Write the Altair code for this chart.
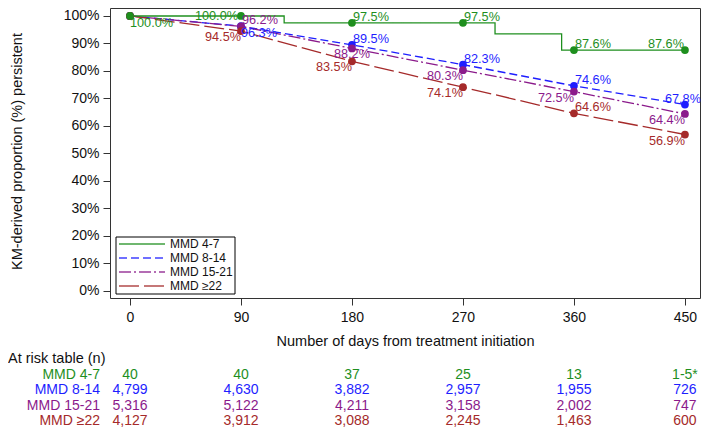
import altair as alt
import pandas as pd

FONT = "Liberation Sans"

# ---------------- data ----------------
series = ["MMD 4-7", "MMD 8-14", "MMD 15-21", "MMD ≥22"]
colors = ["#1E8F1E", "#1E1EFF", "#8B1A8B", "#A52A2A"]
dashes = [[1, 0], [8, 4], [12, 3, 2, 3], [20, 5]]
days = [0, 90, 180, 270, 360, 450]

pct_4_7 = [100.0, 100.0, 97.5, 97.5, 87.6, 87.6]
pct_8_14 = [100.0, 96.3, 89.5, 82.3, 74.6, 67.8]
pct_15_21 = [100.0, 96.2, 88.2, 80.3, 72.5, 64.4]
pct_22 = [100.0, 94.5, 83.5, 74.1, 64.6, 56.9]

# KM step curve of MMD 4-7 (day of each drop, level after the drop)
step_days_4_7 = [0, 125, 296, 350, 450]
step_pct_4_7 = [100.0, 97.5, 93.5, 87.6, 87.6]

at_risk_4_7 = ["40", "40", "37", "25", "13", "1-5*"]
at_risk_8_14 = ["4,799", "4,630", "3,882", "2,957", "1,955", "726"]
at_risk_15_21 = ["5,316", "5,122", "4,211", "3,158", "2,002", "747"]
at_risk_22 = ["4,127", "3,912", "3,088", "2,245", "1,463", "600"]

pcts = [pct_4_7, pct_8_14, pct_15_21, pct_22]
at_risk = [at_risk_4_7, at_risk_8_14, at_risk_15_21, at_risk_22]

# label placement (series index, day) -> style
placements = {
    "left_below": [(0, 0), (1, 90)],
    "right_mid": [(0, 90)],
    "left_above": [(0, 180), (0, 270), (0, 360), (1, 180), (1, 270), (1, 360), (2, 90), (3, 360)],
    "right_above": [(0, 450)],
    "center_above": [(1, 450)],
    "center_below": [(2, 180)],
    "right_below": [(2, 270), (2, 360), (2, 450), (3, 90), (3, 180), (3, 270), (3, 450)],
}
styles = {
    "left_below": dict(align="left", dx=0, dy=7),
    "right_mid": dict(align="right", dx=-3, dy=0),
    "left_above": dict(align="left", dx=1, dy=-6),
    "right_above": dict(align="right", dx=-1, dy=-6),
    "center_above": dict(align="center", dx=-2, dy=-6),
    "center_below": dict(align="center", dx=0, dy=6),
    "right_below": dict(align="right", dx=0, dy=6),
}

# ---------------- tables ----------------
rows = []
for si in [1, 2, 3, 0]:
    for d, p in zip(days, pcts[si]):
        rows.append(dict(series=series[si], si=si, day=d, pct=p,
                         label=f"{p:.1f}%", hex=colors[si]))
points = pd.DataFrame(rows)
others = points[points.si != 0]
green = pd.DataFrame(dict(series=series[0], day=step_days_4_7, pct=step_pct_4_7))

# ---------------- layout ----------------
W, H = 590, 290
X_DOMAIN = [-16.2, 462.2]
Y_DOMAIN = [-2.55, 102.9]

x_enc = alt.X(
    "day:Q",
    scale=alt.Scale(domain=X_DOMAIN, nice=False, zero=False),
    axis=alt.Axis(values=days, title="Number of days from treatment initiation",
                  tickSize=7, labelPadding=5, titleX=W / 2, titleY=43,
                  titleBaseline="middle", titleAlign="center"),
)
y_enc = alt.Y(
    "pct:Q",
    scale=alt.Scale(domain=Y_DOMAIN, nice=False, zero=False),
    axis=alt.Axis(values=list(range(0, 101, 10)), labelExpr="datum.value + '%'",
                  tickSize=7, labelPadding=4,
                  title="KM-derived proportion (%) persistent",
                  titleX=-93, titleY=H / 2 - 2, titleAngle=270,
                  titleBaseline="middle", titleAlign="center"),
)

color_enc = alt.Color("series:N", scale=alt.Scale(domain=series, range=colors), legend=None)
dash_enc = alt.StrokeDash("series:N", scale=alt.Scale(domain=series, range=dashes), legend=None)

other_lines = alt.Chart(others).mark_line(strokeWidth=1.3).encode(
    x=x_enc, y=y_enc, color=color_enc, strokeDash=dash_enc, order="day:Q")
green_line = alt.Chart(green).mark_line(interpolate="step-after", strokeWidth=1.3).encode(
    x=x_enc, y=y_enc, color=color_enc, strokeDash=dash_enc)
dots = alt.Chart(points).mark_circle(size=60, opacity=1).encode(
    x=x_enc, y=y_enc, color=alt.Color("hex:N", scale=None))

layers = [other_lines, green_line, dots]

for name, keys in placements.items():
    st = styles[name]
    sub = pd.DataFrame([r for r in rows if (r["si"], r["day"]) in keys])
    layers.append(
        alt.Chart(sub).mark_text(font=FONT, fontSize=12.7, baseline="middle", **st).encode(
            x=x_enc, y=y_enc, text="label:N", color=alt.Color("hex:N", scale=None))
    )

# legend box (drawn by hand so the rows stay compact)
one = pd.DataFrame({"k": [0]})
layers.append(
    alt.Chart(one).mark_rect(fill="white", stroke="black", strokeWidth=1).encode(
        x=alt.value(6), x2=alt.value(125), y=alt.value(229), y2=alt.value(286))
)
leg_y = [236, 250, 264, 278]
for i in range(4):
    layers.append(
        alt.Chart(one).mark_rule(color=colors[i], strokeWidth=1.3, strokeDash=dashes[i],
                                 opacity=0.85).encode(
            x=alt.value(9), x2=alt.value(55), y=alt.value(leg_y[i]))
    )
    layers.append(
        alt.Chart(pd.DataFrame({"t": [series[i]]})).mark_text(
            font=FONT, fontSize=12, align="left", baseline="middle", color="#111").encode(
            x=alt.value(60), y=alt.value(leg_y[i]), text="t:N")
    )

# at risk table
table_title_y = 351
row_y = [366.5, 382, 397.5, 413]
layers.append(
    alt.Chart(pd.DataFrame({"t": ["At risk table (n)"]})).mark_text(
        font=FONT, fontSize=14.5, align="left", baseline="middle", color="#111").encode(
        x=alt.value(-102), y=alt.value(table_title_y), text="t:N")
)
for r in range(4):
    tdf = pd.DataFrame(dict(day=days, txt=at_risk[r]))
    layers.append(
        alt.Chart(tdf).mark_text(font=FONT, fontSize=14, align="center", baseline="middle",
                                 color=colors[r]).encode(
            x=x_enc, y=alt.value(row_y[r]), text="txt:N")
    )
    layers.append(
        alt.Chart(pd.DataFrame({"t": [series[r]]})).mark_text(
            font=FONT, fontSize=14, align="right", baseline="middle", color=colors[r]).encode(
            x=alt.value(-10), y=alt.value(row_y[r]), text="t:N")
    )

chart = alt.layer(*layers).properties(
    width=W, height=H,
    autosize=alt.AutoSizeParams(type="none"),
    padding={"left": 102, "top": 0, "right": 1, "bottom": 130},
).configure_view(
    stroke="#333", strokeWidth=1
).configure_axis(
    domain=False, grid=False, labelFont=FONT, titleFont=FONT,
    labelFontSize=14, titleFontSize=14.5, titleFontWeight="normal",
    labelColor="#111", titleColor="#111", tickColor="#333",
)

chart.save("out.html", embed_options={"renderer": "svg", "actions": False})
